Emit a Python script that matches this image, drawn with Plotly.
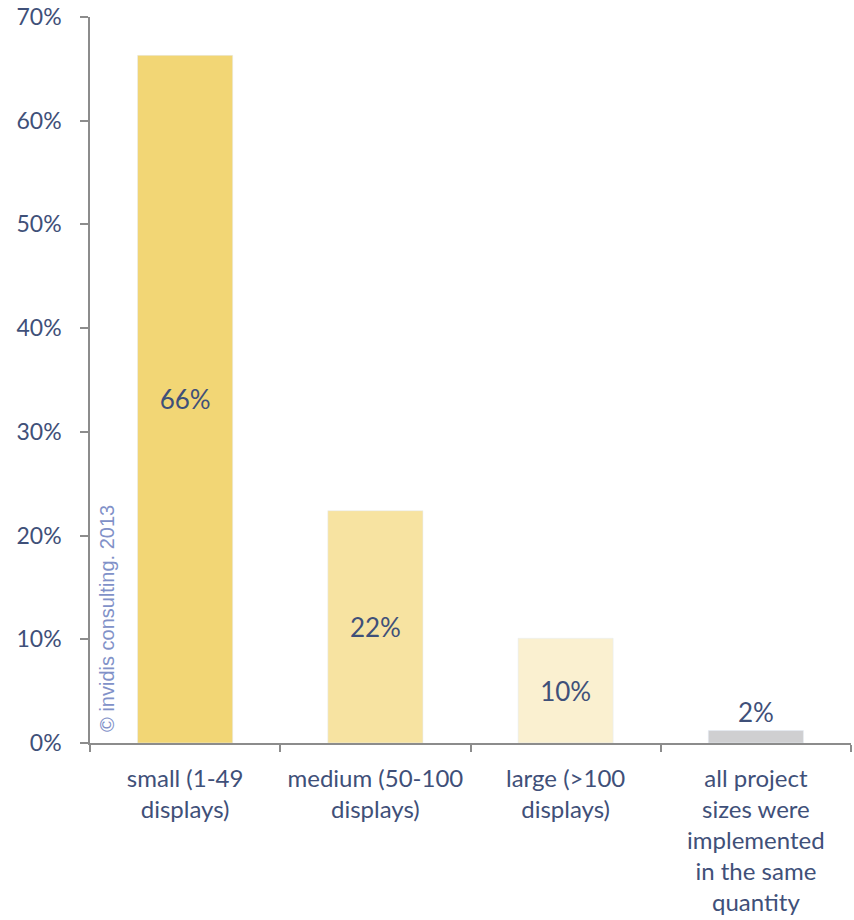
import plotly.graph_objects as go

categories = ["small (1-49<br>displays)", "medium (50-100<br>displays)",
              "large (>100<br>displays)",
              "all project<br>sizes were<br>implemented<br>in the same<br>quantity"]
values = [66.3, 22.4, 10.1, 1.2]
labels = ["66%", "22%", "10%", "2%"]
colors = ["#F2D675", "#F7E3A1", "#FAF0D0", "#CFCFD1"]
positions = ["inside", "inside", "inside", "outside"]
y_ticks = [0, 10, 20, 30, 40, 50, 60, 70]

txt = "#3F5079"
fig = go.Figure(go.Bar(
    x=categories, y=values, text=labels, marker_color=colors,
    textposition=positions, insidetextanchor="middle",
    textfont=dict(family="Lato", size=26, color=txt),
    cliponaxis=False, width=0.5,
))
fig.add_annotation(text="© invidis consulting. 2013", xref="paper", yref="y",
                   x=0.0215, y=12, xanchor="center", yanchor="middle",
                   textangle=-90, showarrow=False,
                   font=dict(family="Liberation Sans", size=20, color="#8191C8"))
fig.update_layout(
    width=854, height=920, margin=dict(l=90, r=3, t=17, b=177),
    plot_bgcolor="white", paper_bgcolor="white", showlegend=False,
    font=dict(family="Lato", size=23, color=txt),
)
fig.update_yaxes(range=[0, 70], tickvals=y_ticks, ticktext=[f"{v}%" for v in y_ticks],
                 showgrid=False, zeroline=False, showline=True, linecolor="#8C8C8C",
                 linewidth=1.5, ticks="outside", ticklen=8, tickcolor="#8C8C8C",
                 tickwidth=1.5, ticklabelstandoff=14)
fig.update_xaxes(showgrid=False, showline=True, linecolor="#8C8C8C", linewidth=1.5,
                 ticks="outside", tickson="boundaries", ticklen=7, tickcolor="#8C8C8C",
                 tickwidth=1.5, tickangle=0, ticklabelstandoff=13,
                 tickfont=dict(family="Lato", size=24, color=txt))
fig.write_html("out.html")
